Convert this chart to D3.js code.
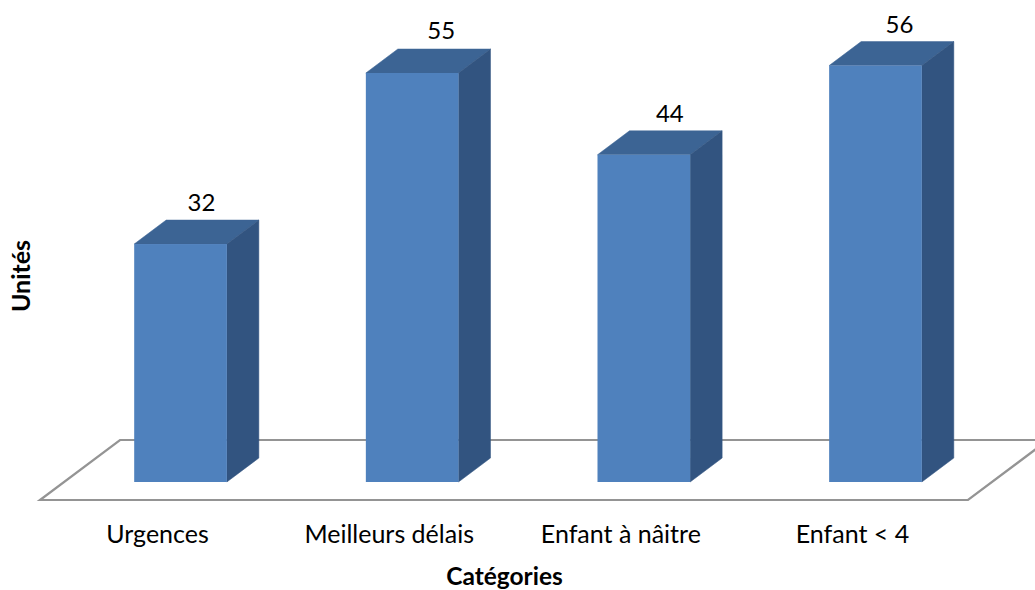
<!DOCTYPE html>
<html lang="fr">
<head>
<meta charset="UTF-8">
<title>Unités par catégorie</title>
<script src="https://d3js.org/d3.v7.min.js"></script>
<style>
    html, body { margin: 0; padding: 0; background: #fff; overflow: hidden; }
    text { font-family: Lato, "Open Sans", sans-serif; fill: #000; }
</style>
</head>
<body>
<div id="chart"></div>
<script>
    const categories = ["Urgences", "Meilleurs délais", "Enfant à nâitre", "Enfant < 4"];
    const values = [32, 55, 44, 56];

    const width = 1035, height = 590;
    const baseY = 482;
    const depthX = 32, depthY = 24;   // oblique offset of the 3D bars

    const labelNudgeX = [21, 29, 26, 24];   // value labels are not centred the same on each bar
    const labelNudgeY = [33, 34, 33, 33];

    const svg = d3.select("#chart").append("svg")
        .attr("width", width)
        .attr("height", height)
        .style("display", "block");

    const x = d3.scaleBand()
        .domain(categories)
        .range([64.7, 991.3])
        .paddingInner(0.6)
        .paddingOuter(0.3);

    const y = d3.scaleLinear()
        .domain([0, 55])
        .range([baseY, 73]);

    // floor of the 3D chart
    const floor = d3.line();
    svg.append("path")
        .attr("d", floor([[1060, 440], [120, 440], [40, 500], [968, 500], [1048, 440]]))
        .attr("fill", "none")
        .attr("stroke", "#949494")
        .attr("stroke-width", 2.2);

    const bars = svg.selectAll("g.bar")
        .data(categories.map((c, i) => ({ cat: c, val: values[i], i: i })))
        .enter().append("g")
        .attr("class", "bar");

    // top face
    bars.append("path")
        .attr("fill", "#3c6494")
        .attr("stroke", "#3c6494")
        .attr("stroke-width", 0.5)
        .attr("d", d => {
            const l = x(d.cat), r = l + x.bandwidth(), t = y(d.val);
            return floor([[l, t], [l + depthX, t - depthY], [r + depthX, t - depthY], [r, t]]) + "Z";
        });

    // side face
    bars.append("path")
        .attr("fill", "#325480")
        .attr("stroke", "#325480")
        .attr("stroke-width", 0.5)
        .attr("d", d => {
            const r = x(d.cat) + x.bandwidth(), t = y(d.val);
            return floor([[r, t], [r + depthX, t - depthY], [r + depthX, baseY - depthY], [r, baseY]]) + "Z";
        });

    // front face
    bars.append("rect")
        .attr("fill", "#4f81bd")
        .attr("x", d => x(d.cat))
        .attr("y", d => y(d.val))
        .attr("width", x.bandwidth())
        .attr("height", d => baseY - y(d.val));

    // value labels
    bars.append("text")
        .attr("x", d => x(d.cat) + x.bandwidth() / 2 + labelNudgeX[d.i])
        .attr("y", d => y(d.val) - labelNudgeY[d.i])
        .attr("text-anchor", "middle")
        .style("font-size", "24px")
        .text(d => d.val);

    // category axis, no line or ticks in the original
    const xAxis = svg.append("g")
        .attr("transform", "translate(-23,525)")
        .call(d3.axisBottom(x).tickSize(0).tickPadding(0));
    xAxis.select(".domain").remove();
    xAxis.selectAll("text")
        .style("font-size", "25px")
        .attr("y", 0)
        .attr("dy", "18px");

    svg.append("text")
        .attr("x", 504.5)
        .attr("y", 585)
        .attr("text-anchor", "middle")
        .style("font-size", "24.5px")
        .style("font-weight", "bold")
        .text("Catégories");

    svg.append("text")
        .attr("transform", "translate(30,276) rotate(-90)")
        .attr("text-anchor", "middle")
        .style("font-size", "25px")
        .style("font-weight", "bold")
        .text("Unités");
</script>
</body>
</html>
